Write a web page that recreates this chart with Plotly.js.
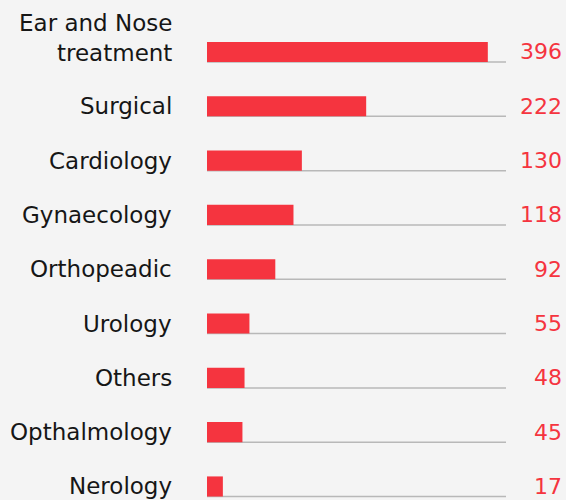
<!DOCTYPE html>
<html>
<head>
<meta charset="utf-8">
<script src="https://cdn.plot.ly/plotly-3.0.1.min.js"></script>
<style>
html,body{margin:0;padding:0;background:#f4f4f4;}
#chart{width:566px;height:500px;}
</style>
</head>
<body>
<div id="chart"></div>
<script>
const categories = ["Ear and Nose<br>treatment","Surgical","Cardiology","Gynaecology","Orthopeadic","Urology","Others","Opthalmology","Nerology"];
const values = [396,222,130,118,92,55,48,45,17];
const valueLabels = ["396","222","130","118","92","55","48","45","17"];

const RED = "#F5343F";
const FONT = "DejaVu Sans";
const xMin = -5.7, xMax = 422;
const barW = 0.37;
const idx = categories.map((c,i)=>i);

const trace = {
  type: "bar",
  orientation: "h",
  x: values.map(v => v - xMin),
  base: xMin,
  y: idx,
  width: barW,
  marker: {color: RED},
  hoverinfo: "skip"
};

const annotations = [];
categories.forEach((c,i)=>{
  const two = c.indexOf("<br>") >= 0;
  annotations.push({
    xref: "paper", yref: "y", x: 0, y: i, xshift: -33,
    xanchor: "right", yanchor: "middle",
    yshift: two ? 14 : 0,
    text: c, showarrow: false, align: "right",
    font: {family: FONT, size: 23, color: "#161616"}
  });
  annotations.push({
    xref: "paper", yref: "y", x: 1, y: i, xshift: 58,
    xanchor: "right", yanchor: "middle",
    text: valueLabels[i], showarrow: false,
    font: {family: FONT, size: 22, color: RED}
  });
});

const shapes = idx.map(i => ({
  type: "line", xref: "paper", yref: "y",
  x0: 0, x1: 1, y0: i + barW/2, y1: i + barW/2,
  line: {color: "#b8b8b8", width: 1.5},
  layer: "below"
}));

const layout = {
  width: 566, height: 500,
  margin: {l: 207, r: 60, t: 0, b: 0},
  paper_bgcolor: "#f4f4f4",
  plot_bgcolor: "#f4f4f4",
  showlegend: false,
  xaxis: {range: [xMin, xMax], visible: false, fixedrange: true},
  yaxis: {range: [8.249, -0.957], visible: false, fixedrange: true},
  annotations: annotations,
  shapes: shapes
};

Plotly.newPlot("chart", [trace], layout, {displayModeBar: false, staticPlot: true});
</script>
</body>
</html>
